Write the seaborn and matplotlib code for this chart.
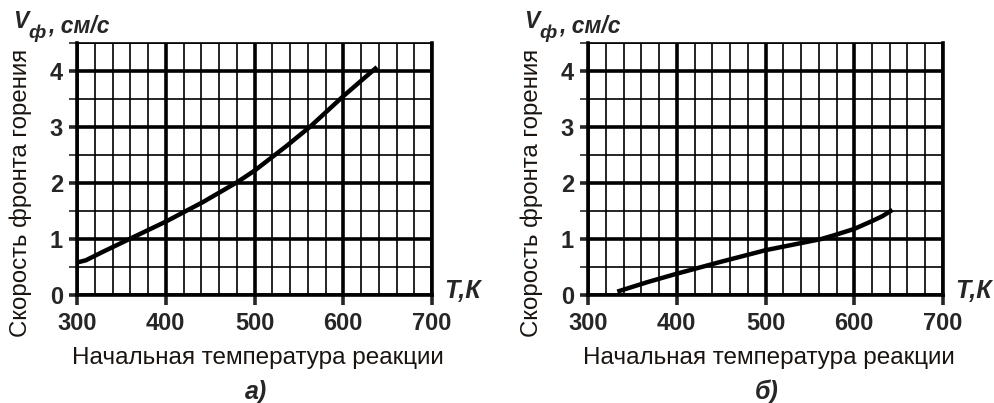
import numpy as np
import seaborn as sns
import matplotlib.pyplot as plt
from matplotlib.ticker import MultipleLocator

sns.set_style("white")
plt.rcParams['font.family'] = ['Liberation Sans', 'DejaVu Sans']

# panel a)
temp_a = [300, 310, 329, 367, 400, 442, 480, 500, 536, 563, 600, 638]
speed_a = [0.58, 0.62, 0.77, 1.06, 1.31, 1.66, 2.01, 2.22, 2.66, 3.01, 3.55, 4.07]
# panel б)
temp_b = [333, 367, 400, 449, 500, 563, 580, 600, 620, 632, 643]
speed_b = [0.06, 0.23, 0.38, 0.59, 0.80, 1.00, 1.08, 1.18, 1.32, 1.41, 1.52]

x_ticks = [300, 400, 500, 600, 700]
y_ticks = [0, 1, 2, 3, 4]
ylabel = "Скорость фронта горения"
xlabel = "Начальная температура реакции"
panel_names = ["а)", "б)"]

fig = plt.figure(figsize=(9.94, 4.03), dpi=100)
ax_a = fig.add_axes([77 / 994, 108 / 403, 355 / 994, 252 / 403])
ax_b = fig.add_axes([588 / 994, 108 / 403, 355 / 994, 252 / 403])

MAJ = 2.6
MIN = 1.2

for ax, tx, vy, name in [(ax_a, temp_a, speed_a, panel_names[0]),
                         (ax_b, temp_b, speed_b, panel_names[1])]:
    ax.set_xlim(300, 700)
    ax.set_ylim(0, 4.5)
    ax.set_xticks(x_ticks)
    ax.set_yticks(y_ticks)
    ax.xaxis.set_minor_locator(MultipleLocator(20))
    ax.yaxis.set_minor_locator(MultipleLocator(0.5))
    ax.grid(which='major', color='black', linewidth=MAJ)
    ax.grid(which='minor', color='black', linewidth=MIN)
    ax.set_axisbelow(True)
    for s in ['left', 'bottom', 'right']:
        ax.spines[s].set_linewidth(MAJ)
        ax.spines[s].set_color('black')
    ax.spines['top'].set_linewidth(MIN)
    ax.spines['top'].set_color('black')

    ax.tick_params(axis='x', which='major', direction='out', length=7, width=MAJ,
                   pad=5, labelsize=17, bottom=True)
    ax.tick_params(axis='x', which='minor', length=0)
    ax.tick_params(axis='y', which='major', direction='out', length=6, width=MAJ,
                   pad=4, labelsize=17, left=True)
    ax.tick_params(axis='y', which='minor', direction='out', length=6, width=MIN,
                   left=True)
    for lab in ax.get_xticklabels() + ax.get_yticklabels():
        lab.set_fontweight('bold')

    sns.lineplot(x=tx, y=vy, ax=ax, color='black', linewidth=3.2, sort=False,
                 solid_capstyle='butt')

    ax.set_xlabel("")
    ax.set_ylabel("")
    ax.text(-0.158, 0.405, ylabel, transform=ax.transAxes, rotation=90,
            ha='center', va='center', fontsize=17.3, color='#1a1410')
    ax.text(0.51, -0.25, xlabel, transform=ax.transAxes, ha='center',
            va='center', fontsize=17.5, color='#1a1410')
    ax.text(0.505, -0.385, name, transform=ax.transAxes, ha='center',
            va='center', fontsize=18, fontweight='bold', fontstyle='italic')
    ax.text(1.035, 0.015, "Т,К", transform=ax.transAxes, ha='left',
            va='center', fontsize=18, fontweight='bold', fontstyle='italic')
    vt = ax.text(-0.18, 1.06, "V", transform=ax.transAxes, ha='left',
                 va='baseline', fontsize=16.5, fontweight='bold', fontstyle='italic')
    ax.annotate("ф", xy=(1, 0), xycoords=vt, xytext=(0, -4),
                textcoords='offset points', ha='left', va='baseline',
                fontsize=14, fontweight='bold', fontstyle='italic')
    ax.annotate(", см/с", xy=(1, 0), xycoords=vt, xytext=(14, 0),
                textcoords='offset points', ha='left', va='baseline',
                fontsize=16.5, fontweight='bold', fontstyle='italic')

fig.savefig("out.png", dpi=100)
